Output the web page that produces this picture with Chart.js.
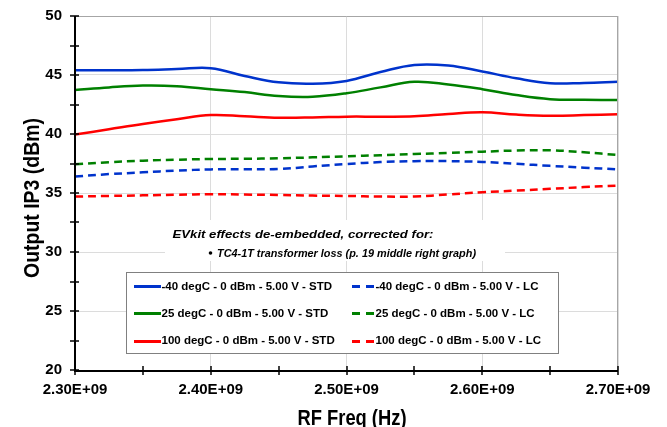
<!DOCTYPE html>
<html><head><meta charset="utf-8">
<script src="https://cdn.jsdelivr.net/npm/chart.js@4/dist/chart.umd.min.js"></script>
<style>html,body{margin:0;padding:0;background:#fff}#wrap{width:667px;height:427px;position:relative}</style>
</head><body><div id="wrap"><canvas id="c" width="667" height="427"></canvas></div>
<script>
const FONT = '"Liberation Sans", Arial, sans-serif';

const freqs = [2.300e9, 2.325e9, 2.350e9, 2.375e9, 2.400e9, 2.425e9, 2.450e9, 2.475e9, 2.500e9,
               2.525e9, 2.550e9, 2.575e9, 2.600e9, 2.625e9, 2.650e9, 2.675e9, 2.700e9];

const stdM40 = [45.40, 45.40, 45.42, 45.50, 45.58, 44.92, 44.38, 44.26, 44.50, 45.25, 45.85, 45.80, 45.30, 44.72, 44.30, 44.33, 44.43];
const std25  = [43.73, 43.95, 44.10, 44.05, 43.80, 43.55, 43.22, 43.16, 43.45, 43.95, 44.42, 44.20, 43.80, 43.30, 42.95, 42.90, 42.88];
const std100 = [39.95, 40.40, 40.85, 41.25, 41.60, 41.50, 41.38, 41.40, 41.47, 41.47, 41.50, 41.70, 41.84, 41.65, 41.55, 41.60, 41.67];
const lcM40  = [36.40, 36.60, 36.75, 36.90, 37.00, 37.02, 37.03, 37.25, 37.46, 37.62, 37.70, 37.70, 37.63, 37.47, 37.30, 37.15, 37.00];
const lc25   = [37.43, 37.60, 37.74, 37.82, 37.88, 37.90, 37.94, 38.02, 38.11, 38.20, 38.30, 38.40, 38.50, 38.60, 38.62, 38.45, 38.22];
const lc100  = [34.70, 34.75, 34.80, 34.85, 34.90, 34.87, 34.83, 34.78, 34.75, 34.70, 34.70, 34.88, 35.06, 35.20, 35.35, 35.50, 35.62];

const seriesNames = [
  '-40 degC - 0 dBm - 5.00 V - STD', '25 degC - 0 dBm - 5.00 V - STD', '100 degC - 0 dBm - 5.00 V - STD',
  '-40 degC - 0 dBm - 5.00 V - LC', '25 degC - 0 dBm - 5.00 V - LC', '100 degC - 0 dBm - 5.00 V - LC'
];

const xMajorTicks = [2.30e9, 2.40e9, 2.50e9, 2.60e9, 2.70e9];
const xMinorTicks = [2.35e9, 2.45e9, 2.55e9, 2.65e9];
const yMajorTicks = [20, 25, 30, 35, 40, 45, 50];
const yMinorTicks = [22.5, 27.5, 32.5, 37.5, 42.5, 47.5];

const xTitle = 'RF Freq (Hz)';
const yTitle = 'Output IP3 (dBm)';
const noteLine1 = 'EVkit effects de-embedded, corrected for:';
const noteLine2 = 'TC4-1T transformer loss (p. 19 middle right graph)';

const BLUE = '#0033cc', GREEN = '#008000', RED = '#ff0000';

function pts(arr){ return freqs.map((f,i)=>({x:f, y:arr[i]})); }
function ds(label, arr, color, dashed){
  return {label, data: pts(arr), borderColor: color, backgroundColor: color, borderWidth: 2.5,
          borderDash: dashed ? [8,5] : [], pointRadius: 0, tension: 0.4, fill: false};
}

const decor = {
  id: 'decor',
  afterDraw(chart){
    const ctx = chart.ctx, a = chart.chartArea;
    const xs = chart.scales.x, ys = chart.scales.y;
    ctx.save();
    // frame top/right
    ctx.strokeStyle = '#a6a6a6'; ctx.lineWidth = 1;
    ctx.beginPath(); ctx.moveTo(a.left, a.top + 0.5); ctx.lineTo(a.right, a.top + 0.5); ctx.stroke();
    ctx.beginPath(); ctx.moveTo(a.right - 0.5, a.top); ctx.lineTo(a.right - 0.5, a.bottom); ctx.stroke();
    // axis lines
    ctx.strokeStyle = '#000'; ctx.lineWidth = 2;
    ctx.beginPath(); ctx.moveTo(a.left, a.top); ctx.lineTo(a.left, a.bottom + 1); ctx.lineTo(a.right, a.bottom + 1); ctx.stroke();
    // tick marks crossing axes
    ctx.lineWidth = 1.5;
    [...xMajorTicks, ...xMinorTicks].forEach(v => {
      const px = Math.round(xs.getPixelForValue(v));
      ctx.beginPath(); ctx.moveTo(px, a.bottom - 4); ctx.lineTo(px, a.bottom + 5); ctx.stroke();
    });
    [...yMajorTicks, ...yMinorTicks].forEach(v => {
      const py = Math.round(ys.getPixelForValue(v));
      ctx.beginPath(); ctx.moveTo(a.left - 5, py); ctx.lineTo(a.left + 4, py); ctx.stroke();
    });
    // axis titles (condensed bold)
    ctx.fillStyle = '#000';
    ctx.font = 'bold 22px ' + FONT;
    ctx.textBaseline = 'alphabetic'; ctx.textAlign = 'center';
    let w = ctx.measureText(xTitle).width;
    ctx.save(); ctx.translate(352, 425); ctx.scale(109 / w, 1); ctx.fillText(xTitle, 0, 0); ctx.restore();
    w = ctx.measureText(yTitle).width;
    ctx.save(); ctx.translate(38.5, 198); ctx.rotate(-Math.PI/2); ctx.scale(160 / w, 1); ctx.fillText(yTitle, 0, 0); ctx.restore();

    // annotation box
    ctx.fillStyle = '#fff'; ctx.fillRect(165, 220, 340, 41);
    ctx.fillStyle = '#000'; ctx.textAlign = 'left';
    ctx.font = 'italic bold 11.5px ' + FONT;
    w = ctx.measureText(noteLine1).width;
    ctx.save(); ctx.translate(172.5, 237.5); ctx.scale(261 / w, 1); ctx.fillText(noteLine1, 0, 0); ctx.restore();
    ctx.font = 'italic bold 10px ' + FONT;
    w = ctx.measureText(noteLine2).width;
    ctx.save(); ctx.translate(217, 256.5); ctx.scale(259 / w, 1); ctx.fillText(noteLine2, 0, 0); ctx.restore();
    ctx.beginPath(); ctx.arc(210.5, 253, 1.8, 0, Math.PI*2); ctx.fill();

    // legend
    ctx.fillStyle = '#fff'; ctx.fillRect(126, 272, 433, 82);
    ctx.strokeStyle = '#808080'; ctx.lineWidth = 1; ctx.strokeRect(126.5, 272.5, 432, 81);
    const rows = [286, 313.3, 340.7];
    ctx.font = 'bold 11.5px ' + FONT; ctx.textBaseline = 'middle';
    const dsets = chart.data.datasets;
    for (let i = 0; i < 3; i++){
      const y = Math.round(rows[i]) + 0.5;
      const s = dsets[i], l = dsets[i+3];
      ctx.lineWidth = 3;
      ctx.strokeStyle = s.borderColor; ctx.setLineDash([]);
      ctx.beginPath(); ctx.moveTo(134, y); ctx.lineTo(161, y); ctx.stroke();
      ctx.fillStyle = '#000'; ctx.fillText(s.label, 161.5, rows[i] + 0.5);
      ctx.strokeStyle = l.borderColor; ctx.setLineDash([8,6]);
      ctx.beginPath(); ctx.moveTo(352, y); ctx.lineTo(374, y); ctx.stroke();
      ctx.setLineDash([]);
      ctx.fillText(l.label, 375.5, rows[i] + 0.5);
    }
    ctx.restore();
  }
};

new Chart(document.getElementById('c'), {
  type: 'line',
  data: { datasets: [
    ds(seriesNames[0], stdM40, BLUE, false),
    ds(seriesNames[1], std25, GREEN, false),
    ds(seriesNames[2], std100, RED, false),
    ds(seriesNames[3], lcM40, BLUE, true),
    ds(seriesNames[4], lc25, GREEN, true),
    ds(seriesNames[5], lc100, RED, true)
  ]},
  options: {
    responsive: false, animation: false, devicePixelRatio: 1,
    layout: { padding: { top: 16, right: 49, left: 0, bottom: 0 } },
    plugins: { legend: { display: false }, tooltip: { enabled: false } },
    scales: {
      x: {
        type: 'linear', min: 2.3e9, max: 2.7e9,
        afterBuildTicks: s => { s.ticks = xMajorTicks.map(v => ({value: v})); },
        afterFit: s => { s.height = 57; s.paddingLeft = 0; s.paddingRight = 0; },
        grid: { color: '#dcdcdc', lineWidth: 1, drawTicks: false },
        border: { display: false },
        ticks: { padding: 11, color: '#000', font: { family: FONT, size: 15, weight: 'bold' },
                 maxRotation: 0, autoSkip: false,
                 callback: v => (v / 1e9).toFixed(2) + 'E+09' }
      },
      y: {
        min: 20, max: 50,
        afterBuildTicks: s => { s.ticks = yMajorTicks.map(v => ({value: v})); },
        afterFit: s => { s.width = 75; s.paddingTop = 0; s.paddingBottom = 0; },
        grid: { color: '#dcdcdc', lineWidth: 1, drawTicks: false },
        border: { display: false },
        ticks: { padding: 13, color: '#000', font: { family: FONT, size: 15, weight: 'bold' } }
      }
    }
  },
  plugins: [decor]
});
</script>
</body></html>
